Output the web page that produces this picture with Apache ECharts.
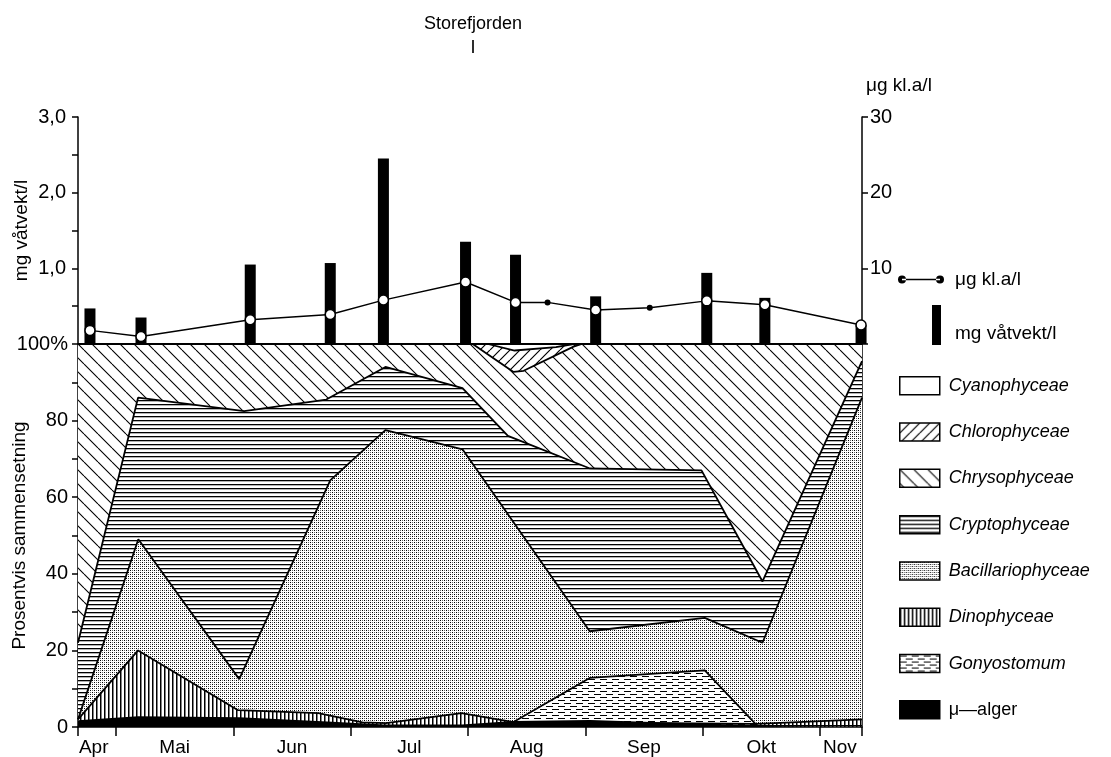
<!DOCTYPE html>
<html><head><meta charset="utf-8">
<script src="https://cdn.jsdelivr.net/npm/echarts@6/dist/echarts.min.js"></script>
<style>html,body{margin:0;padding:0;background:#fff}#c{width:1111px;height:757px}</style>
</head><body><div id="c"></div>
<script>
// x positions are given in months after 1 April (every month is drawn equally wide)
const xMin = 0.676, xMax = 7.358;
const monthNames = ['Apr', 'Mai', 'Jun', 'Jul', 'Aug', 'Sep', 'Okt', 'Nov'];
const monthLabelPos = [0.81, 1.5, 2.5, 3.5, 4.5, 5.5, 6.5, 7.17];
const monthTicks = [1, 2, 3, 4, 5, 6, 7];

// upper panel
const bioDates = [0.778, 1.213, 2.144, 2.826, 3.279, 3.979, 4.405, 5.088, 6.035, 6.530, 7.350];
const bioValues = [0.47, 0.35, 1.05, 1.07, 2.45, 1.35, 1.18, 0.63, 0.94, 0.61, 0.25]; // mg våtvekt/l
const chlDates = [0.778, 1.213, 2.144, 2.826, 3.279, 3.979, 4.405, 4.678, 5.088, 5.549, 6.035, 6.530, 7.350];
const chlValues = [1.8, 1.0, 3.2, 3.9, 5.8, 8.2, 5.5, 5.5, 4.5, 4.8, 5.7, 5.2, 2.5]; // µg kl.a/l

// lower panel: cumulative percentage at the top of each group [month position, %]
const cyanoTop = [[0.676, 100], [7.358, 100]];
const chloroTop = [[0.676, 100], [4.17, 100], [4.397, 98.3], [4.75, 99.2], [4.9, 100], [7.358, 100]];
const chrysoTop = [[0.676, 100], [4.04, 100], [4.388, 92.7], [4.474, 93.0], [4.9, 99.3], [4.97, 100], [7.358, 100]];
const cryptoTop = [[0.676, 22], [1.188, 86], [2.092, 82.5], [2.792, 85.5], [3.296, 94], [3.953, 88.5], [4.34, 76], [5.04, 67.5], [5.99, 67], [6.51, 38], [7.358, 95.5]];
const bacTop = [[0.676, 2], [1.19, 49], [2.05, 12.5], [2.826, 64.4], [3.296, 77.5], [3.953, 72.5], [5.037, 25], [6.018, 28.5], [6.51, 22], [7.358, 86]];
const dinoTop = [[0.676, 2], [1.188, 20], [2.04, 4.4], [2.724, 3.6], [3.1, 1.2], [3.3, 1.0], [3.944, 3.6], [4.388, 1.3], [6.46, 0.8], [7.358, 2]];
const gonyoTop = [[4.388, 1.3], [5.037, 12.8], [6.018, 14.8], [6.46, 0.5]];
const microTop = [[0.676, 1.5], [1.19, 2.6], [2.05, 2.3], [2.8, 1.2], [3.29, 0.4], [3.95, 0.4], [4.39, 1.3], [5.04, 1.6], [6.02, 0.6], [6.46, 0.3], [7.358, 0.3]];

const groupNames = ['Cyanophyceae', 'Chlorophyceae', 'Chrysophyceae', 'Cryptophyceae', 'Bacillariophyceae', 'Dinophyceae', 'Gonyostomum', 'μ—alger'];
const groupTops = [cyanoTop, chloroTop, chrysoTop, cryptoTop, bacTop, dinoTop, gonyoTop, microTop];

function pattern(w, h, draw) {
  const c = document.createElement('canvas');
  c.width = w; c.height = h;
  const g = c.getContext('2d');
  g.fillStyle = '#fff'; g.fillRect(0, 0, w, h);
  g.strokeStyle = '#000'; g.fillStyle = '#000';
  draw(g, w, h);
  return { image: c, repeat: 'repeat' };
}
const fills = [
  '#ffffff',
  pattern(10, 10, (g, w, h) => { g.lineWidth = 1.2; g.beginPath(); for (let k = -1; k <= 1; k++) { g.moveTo(k * w, h); g.lineTo(k * w + w, 0); } g.stroke(); }),
  pattern(14, 14, (g, w, h) => { g.lineWidth = 1.1; g.beginPath(); for (let k = -1; k <= 1; k++) { g.moveTo(k * w, 0); g.lineTo(k * w + w, h); } g.stroke(); }),
  pattern(4, 4, (g) => { g.fillRect(0, 0, 4, 1.3); }),
  pattern(4, 4, (g) => { g.fillRect(0, 0, 1, 1); g.fillRect(2, 2, 1, 1); g.fillStyle = '#666'; g.fillRect(2, 0, 1, 1); g.fillRect(0, 2, 1, 1); }),
  pattern(4, 4, (g) => { g.fillRect(0, 0, 1.5, 4); }),
  pattern(12, 6, (g) => { g.fillRect(0, 1, 7, 1); g.fillRect(6, 4, 6, 1); g.fillRect(0, 4, 1, 1); }),
  '#000000'
];

const FONT = 'Liberation Sans, Arial, sans-serif';
const txt = { color: '#000', fontFamily: FONT, fontSize: 19 };
const blackLine = { lineStyle: { color: '#000', width: 1.5 } };

const groupSeries = groupNames.map((name, i) => ({
  name, type: 'line', xAxisIndex: 1, yAxisIndex: 2,
  data: groupTops[i], showSymbol: false, smooth: false, animation: false,
  itemStyle: { color: fills[i] },
  lineStyle: { color: '#000', width: 1.8 },
  areaStyle: { color: fills[i], opacity: 1, origin: 'start' },
  emphasis: { disabled: true }
}));

const chlData = chlDates.map((d, i) => {
  const onBar = bioDates.indexOf(d) >= 0;
  return onBar
    ? { value: [d, chlValues[i]], symbolSize: 10, itemStyle: { color: '#fff', borderColor: '#000', borderWidth: 1.5 } }
    : { value: [d, chlValues[i]], symbolSize: 6, itemStyle: { color: '#000', borderColor: '#000', borderWidth: 0 } };
});

const option = {
  animation: false,
  backgroundColor: '#fff',
  title: {
    text: 'Storefjorden\nI', left: 468, top: 7, textAlign: 'center',
    textStyle: { ...txt, fontSize: 18, fontWeight: 'normal', lineHeight: 24 }
  },
  grid: [
    { left: 78, right: 249, top: 117, bottom: 413, containLabel: false, outerBoundsMode: 'none' },
    { left: 78, right: 249, top: 344, bottom: 30, containLabel: false, outerBoundsMode: 'none' }
  ],
  xAxis: [
    { type: 'value', gridIndex: 0, min: xMin, max: xMax, show: false },
    {
      type: 'value', gridIndex: 1, min: xMin, max: xMax,
      axisLine: { show: true, onZero: false, ...blackLine },
      axisTick: { show: true, customValues: [xMin, ...monthTicks, xMax], length: 9, inside: false, ...blackLine },
      axisLabel: { ...txt, margin: 11, customValues: monthLabelPos,
        formatter: (v) => { const i = monthLabelPos.findIndex(p => Math.abs(p - v) < 1e-6); return i >= 0 ? monthNames[i] : ''; } },
      splitLine: { show: false }
    }
  ],
  yAxis: [
    {
      type: 'value', gridIndex: 0, min: 0, max: 3, interval: 0.5, position: 'left',
      name: 'mg våtvekt/l', nameLocation: 'middle', nameRotate: 90, nameGap: 47, nameMoveOverlap: false,
      nameTextStyle: { ...txt },
      axisLine: { show: true, onZero: false, ...blackLine },
      axisTick: { show: true, length: 6, ...blackLine },
      axisLabel: { ...txt, fontSize: 20, margin: 12,
        formatter: (v) => (v > 0 && Math.abs(v - Math.round(v)) < 1e-6) ? v.toFixed(1).replace('.', ',') : '' },
      splitLine: { show: false }
    },
    {
      type: 'value', gridIndex: 0, min: 0, max: 30, interval: 10, position: 'right',
      name: 'μg kl.a/l', nameLocation: 'end', nameGap: 22,
      nameTextStyle: { ...txt, align: 'left', padding: [0, 0, 0, 4] },
      axisLine: { show: true, onZero: false, ...blackLine },
      axisTick: { show: true, length: 6, ...blackLine },
      axisLabel: { ...txt, fontSize: 20, margin: 8, formatter: (v) => v > 0 ? String(v) : '' },
      splitLine: { show: false }
    },
    {
      type: 'value', gridIndex: 1, min: 0, max: 100, interval: 10, position: 'left',
      name: 'Prosentvis sammensetning', nameLocation: 'middle', nameRotate: 90, nameGap: 49, nameMoveOverlap: false,
      nameTextStyle: { ...txt },
      axisLine: { show: true, onZero: false, ...blackLine },
      axisTick: { show: true, length: 6, ...blackLine },
      axisLabel: { ...txt, fontSize: 20, margin: 10,
        formatter: (v) => v === 100 ? '100%' : (v % 20 === 0 ? String(v) : '') },
      splitLine: { show: false }
    },
    {
      type: 'value', gridIndex: 1, min: 0, max: 100, position: 'right',
      axisLine: { show: true, onZero: false, ...blackLine }, axisTick: { show: false }, axisLabel: { show: false },
      splitLine: { show: false }
    }
  ],
  legend: [
    {
      data: [{ name: 'μg kl.a/l', icon: 'path://M0,4a4,4 0 1,0 8,0a4,4 0 1,0 -8,0ZM4,3.3H42V4.7H4ZM38,4a4,4 0 1,0 8,0a4,4 0 1,0 -8,0Z' }],
      left: 893, top: 265, orient: 'vertical', itemWidth: 46, itemHeight: 8,
      itemStyle: { color: '#000', borderWidth: 0 },
      textStyle: { ...txt, padding: [0, 0, 0, 6] }, selectedMode: false
    },
    {
      data: [{ name: 'mg våtvekt/l', icon: 'rect' }],
      left: 927, top: 300, orient: 'vertical', itemWidth: 9, itemHeight: 40,
      itemStyle: { color: '#000', borderWidth: 0 },
      formatter: (n) => '\n' + n,
      textStyle: { ...txt, lineHeight: 17, padding: [0, 0, 0, 9] }, selectedMode: false
    },
    {
      data: groupNames.map((n, i) => ({ name: n, icon: 'rect', textStyle: i === 7 ? { fontStyle: 'normal' } : {} })),
      left: 894, top: 371, orient: 'vertical', itemWidth: 40, itemHeight: 18, itemGap: 26.8,
      itemStyle: { borderColor: '#000', borderWidth: 1.5 },
      textStyle: { ...txt, fontSize: 18, fontStyle: 'italic', lineHeight: 18, padding: [0, 0, 0, 4] }, selectedMode: false
    }
  ],
  series: [
    {
      name: 'mg våtvekt/l', type: 'bar', xAxisIndex: 0, yAxisIndex: 0, clip: true,
      data: bioDates.map((d, i) => [d, bioValues[i]]), barWidth: 11,
      itemStyle: { color: '#000' }, emphasis: { disabled: true }
    },
    {
      name: 'μg kl.a/l', type: 'line', xAxisIndex: 0, yAxisIndex: 1, z: 5,
      data: chlData, symbol: 'circle', showSymbol: true,
      itemStyle: { color: '#000' },
      lineStyle: { color: '#000', width: 1.5 }, emphasis: { disabled: true }
    },
    ...groupSeries
  ]
};

const chart = echarts.init(document.getElementById('c'), null, { renderer: 'canvas' });
chart.setOption(option);
</script></body></html>
